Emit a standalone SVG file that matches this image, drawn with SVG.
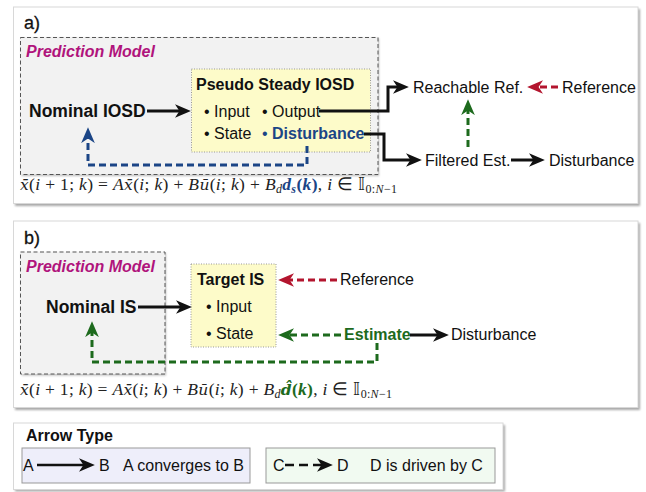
<svg xmlns="http://www.w3.org/2000/svg" width="646" height="492" viewBox="0 0 646 492">
<defs>
<style>
.panel{fill:#ffffff;stroke:#d8d8d8;stroke-width:1}
.shadow{fill:#a8a8a8}
.pred{fill:#f2f2f2;stroke:#555;stroke-width:1;stroke-dasharray:4 2.5}
.yel{fill:#fdfbc9;stroke:#999;stroke-width:1;stroke-dasharray:1 1.5}
.t{font-family:"Liberation Sans",Arial,sans-serif;font-size:16px;fill:#111}
.b{font-weight:bold}
.big{font-size:17.5px;font-weight:bold}
.lbl{font-size:18px;stroke:#111;stroke-width:0.3}
.cb{fill:#1b4586}
.cg{fill:#1d6a1d}
.pm{font-family:"Liberation Sans",Arial,sans-serif;font-size:16px;font-weight:bold;font-style:italic;fill:#b0147c}
.eq{font-family:"Liberation Serif","Times New Roman",serif;font-size:17.5px;fill:#222}
.it{font-style:italic}
.bar{font-family:"DejaVu Serif",serif;font-style:italic;font-size:15.5px}
.blk{fill:none;stroke:#111;stroke-width:3}
.lg{fill:none;stroke:#111;stroke-width:2.5}
.lgd{fill:none;stroke:#111;stroke-width:2.5;stroke-dasharray:9 5}
.red{fill:none;stroke:#b3152e;stroke-width:3;stroke-dasharray:7 4}
.grn{fill:none;stroke:#1d6a1d;stroke-width:3;stroke-dasharray:7 4}
.blu{fill:none;stroke:#1b4586;stroke-width:3;stroke-dasharray:7 4}
</style>
<filter id="sh" x="-5%" y="-5%" width="110%" height="110%"><feGaussianBlur stdDeviation="1"/></filter>
<marker id="mk" viewBox="0 0 14 12" markerUnits="userSpaceOnUse" markerWidth="16" markerHeight="14" refX="8" refY="6" orient="auto"><path d="M0,0 L14,6 L0,12 L4,6 z" fill="#111"/></marker>
<marker id="mr" viewBox="0 0 14 12" markerUnits="userSpaceOnUse" markerWidth="16" markerHeight="14" refX="8" refY="6" orient="auto"><path d="M0,0 L14,6 L0,12 L4,6 z" fill="#b3152e"/></marker>
<marker id="mg" viewBox="0 0 14 12" markerUnits="userSpaceOnUse" markerWidth="16" markerHeight="14" refX="8" refY="6" orient="auto"><path d="M0,0 L14,6 L0,12 L4,6 z" fill="#1d6a1d"/></marker>
<marker id="mb" viewBox="0 0 14 12" markerUnits="userSpaceOnUse" markerWidth="16" markerHeight="14" refX="8" refY="6" orient="auto"><path d="M0,0 L14,6 L0,12 L4,6 z" fill="#1b4586"/></marker>
</defs>
<rect width="646" height="492" fill="#ffffff"/>

<!-- Panel a -->
<g id="panel-a">
<rect class="shadow" x="15" y="9" width="625" height="197" filter="url(#sh)"/>
<rect class="panel" x="13.5" y="7" width="624.5" height="196.5"/>
<text class="t lbl" x="24" y="29">a)</text>
</g>
<g id="pred-a">
<rect x="21.5" y="38.5" width="357.5" height="137.5" fill="#bbb" filter="url(#sh)"/>
<rect class="pred" x="20.5" y="37.5" width="357.5" height="137"/>
<text class="pm" x="26" y="57">Prediction Model</text>
</g>
<g id="nominal-iosd"><text class="t big" x="29" y="117">Nominal IOSD</text></g>
<g id="pseudo-steady-iosd">
<rect class="yel" x="191.5" y="69" width="179" height="83"/>
<text class="t b" x="196" y="90" font-size="17.2">Pseudo Steady IOSD</text>
<text class="t" x="204" y="117">• Input</text>
<text class="t" x="262" y="117">• Output</text>
<text class="t" x="204" y="139">• State</text>
<text class="t cb" x="262" y="139">• <tspan font-weight="bold">Disturbance</tspan></text>
</g>
<g id="reachable-ref"><text class="t" x="413" y="93">Reachable Ref.</text></g>
<g id="reference-a"><text class="t" x="562" y="93">Reference</text></g>
<g id="filtered-est"><text class="t" x="425" y="166">Filtered Est.</text></g>
<g id="disturbance-a"><text class="t" x="549" y="166">Disturbance</text></g>
<text class="eq" x="20" y="190" textLength="377" lengthAdjust="spacing"><tspan class="bar">x̄</tspan>(<tspan class="it">i</tspan> + 1; <tspan class="it">k</tspan>) = <tspan class="it">A</tspan><tspan class="bar">x̄</tspan>(<tspan class="it">i</tspan>; <tspan class="it">k</tspan>) + <tspan class="it">B</tspan><tspan class="bar">ū</tspan>(<tspan class="it">i</tspan>; <tspan class="it">k</tspan>) + <tspan class="it">B</tspan><tspan class="it" font-size="12" dy="3">d</tspan><tspan dy="-3" class="cb" font-weight="bold"><tspan class="it">d</tspan><tspan class="it" font-size="12" dy="3">s</tspan><tspan dy="-3">(</tspan><tspan class="it">k</tspan>)</tspan>, <tspan class="it">i</tspan> ∈ 𝕀<tspan font-size="12" dy="3">0:<tspan class="it">N</tspan>−1</tspan></text>

<!-- Panel b -->
<g id="panel-b">
<rect class="shadow" x="15" y="223" width="625" height="187" filter="url(#sh)"/>
<rect class="panel" x="13.5" y="221" width="624.5" height="186.5"/>
<text class="t lbl" x="24" y="244">b)</text>
</g>
<g id="pred-b">
<rect x="21.5" y="253" width="144.5" height="122.5" fill="#bbb" filter="url(#sh)"/>
<rect class="pred" x="20.5" y="252" width="144.5" height="122"/>
<text class="pm" x="26" y="272">Prediction Model</text>
</g>
<g id="nominal-is"><text class="t big" x="46" y="313">Nominal IS</text></g>
<g id="target-is">
<rect class="yel" x="191" y="264" width="85" height="83"/>
<text class="t b" x="197" y="285" font-size="18">Target IS</text>
<text class="t" x="206" y="312">• Input</text>
<text class="t" x="206" y="339">• State</text>
</g>
<g id="reference-b"><text class="t" x="340" y="285">Reference</text></g>
<g id="estimate"><text class="t b cg" x="344" y="340">Estimate</text></g>
<g id="disturbance-b"><text class="t" x="451" y="340">Disturbance</text></g>
<text class="eq" x="20" y="395" textLength="372" lengthAdjust="spacing"><tspan class="bar">x̄</tspan>(<tspan class="it">i</tspan> + 1; <tspan class="it">k</tspan>) = <tspan class="it">A</tspan><tspan class="bar">x̄</tspan>(<tspan class="it">i</tspan>; <tspan class="it">k</tspan>) + <tspan class="it">B</tspan><tspan class="bar">ū</tspan>(<tspan class="it">i</tspan>; <tspan class="it">k</tspan>) + <tspan class="it">B</tspan><tspan class="it" font-size="12" dy="3">d</tspan><tspan dy="-3" class="cg" font-weight="bold"><tspan class="bar" font-weight="bold">d̂</tspan>(<tspan class="it">k</tspan>)</tspan>, <tspan class="it">i</tspan> ∈ 𝕀<tspan font-size="12" dy="3">0:<tspan class="it">N</tspan>−1</tspan></text>

<!-- Legend -->
<g id="legend">
<rect class="shadow" x="15" y="425" width="490" height="66.5" filter="url(#sh)"/>
<rect class="panel" x="13.5" y="423" width="489.5" height="66.5"/>
<text class="t b" x="26" y="441">Arrow Type</text>
<rect x="22" y="448" width="228" height="35" fill="#eeeefa" stroke="#999" stroke-width="1"/>
<text class="t" x="23" y="471">A</text>
<text class="t" x="99" y="471">B</text>
<text class="t" x="123" y="471">A converges to B</text>
<rect x="266" y="448" width="229" height="35" fill="#f1faf1" stroke="#999" stroke-width="1"/>
<text class="t" x="273" y="471">C</text>
<text class="t" x="337" y="471">D</text>
<text class="t" x="370" y="471">D is driven by C</text>
</g>

<g id="connectors">
<path class="blk" d="M147,111 H184" marker-end="url(#mk)"/>
<path class="blk" d="M319,111 H388 V87 H402" marker-end="url(#mk)"/>
<path class="blk" d="M364,134 H384 V160 H415" marker-end="url(#mk)"/>
<path class="blk" d="M511,160 H538" marker-end="url(#mk)"/>
<path class="red" d="M558,87 H534" marker-end="url(#mr)"/>
<path class="grn" d="M468,147 V106" marker-end="url(#mg)"/>
<path class="blu" d="M307,146 V165 H88 V134" marker-end="url(#mb)"/>
<path class="blk" d="M138,307 H185" marker-end="url(#mk)"/>
<path class="red" d="M337,280 H285" marker-end="url(#mr)"/>
<path class="grn" d="M341,335 H285" marker-end="url(#mg)"/>
<path class="blk" d="M410,335 H442" marker-end="url(#mk)"/>
<path class="grn" d="M377,343 V362 H92 V328" marker-end="url(#mg)"/>
<path class="lg" d="M37,465 H88" marker-end="url(#mk)"/>
<path class="lgd" d="M285,465 H326" marker-end="url(#mk)"/>
</g>
</svg>
